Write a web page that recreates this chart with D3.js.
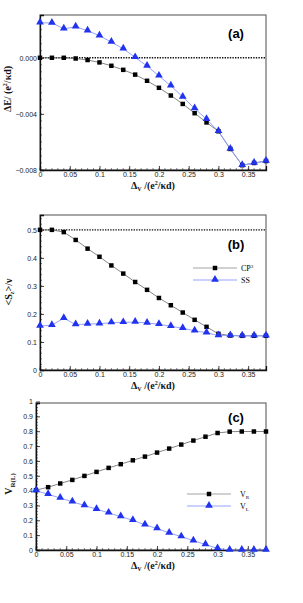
<!DOCTYPE html>
<html>
<head>
<meta charset="utf-8">
<script src="https://cdn.jsdelivr.net/npm/d3@7"></script>
<style>
  body { margin: 0; background: #fff; }
  svg { display: block; }
  .tick text { font-family: "Liberation Sans", Arial, sans-serif; font-size: 7px; fill: #222; }
  .lbl { font-family: "Liberation Serif", "Times New Roman", serif; font-weight: bold; fill: #111; }
</style>
</head>
<body>
<svg id="chart" width="303" height="603"></svg>
<script>
// x values shared by all three panels
const deltaV = [0, 0.02, 0.04, 0.06, 0.08, 0.1, 0.12, 0.14, 0.16, 0.18, 0.2, 0.22, 0.24, 0.26, 0.28, 0.3, 0.32, 0.34, 0.36, 0.38];
const xTicks = [0, 0.05, 0.1, 0.15, 0.2, 0.25, 0.3, 0.35];

// panel (a) energy difference
const dEsquares = [0, 0, 0, -0.00005, -0.00016, -0.00033, -0.00057, -0.00086, -0.0012, -0.00164, -0.00214, -0.00269, -0.00329, -0.00395, -0.00461, -0.00524, -0.0065, -0.00766, -0.0075, -0.00736];
const dEtriangles = [0.0025, 0.00248, 0.00207, 0.00221, 0.00193, 0.00157, 0.00112, 0.00064, 0.00003, -0.00059, -0.00129, -0.002, -0.00279, -0.00361, -0.00438, -0.00524, -0.0065, -0.00766, -0.0075, -0.00736];
const aTicks = [0, -0.004, -0.008];

// panel (b) <Sz>/nu
const szCP3 = [0.5, 0.5, 0.492, 0.464, 0.433, 0.404, 0.373, 0.344, 0.314, 0.286, 0.257, 0.231, 0.205, 0.179, 0.154, 0.129, 0.123, 0.122, 0.122, 0.122];
const szSS = [0.157, 0.16, 0.185, 0.162, 0.164, 0.165, 0.169, 0.17, 0.171, 0.168, 0.163, 0.156, 0.149, 0.14, 0.133, 0.123, 0.123, 0.122, 0.122, 0.122];
const bTicks = [0, 0.1, 0.2, 0.3, 0.4, 0.5];

// panel (c) V_R and V_L
const vR = [0.403, 0.423, 0.448, 0.472, 0.499, 0.526, 0.553, 0.578, 0.604, 0.629, 0.656, 0.683, 0.71, 0.737, 0.763, 0.788, 0.797, 0.798, 0.798, 0.798];
const vL = [0.4, 0.375, 0.35, 0.325, 0.3, 0.275, 0.25, 0.225, 0.2, 0.17, 0.145, 0.115, 0.09, 0.063, 0.037, 0.01, 0, 0, 0, 0];
const cTicks = [0, 0.1, 0.2, 0.3, 0.4, 0.5, 0.6, 0.7, 0.8, 0.9, 1];

const svg = d3.select("#chart");
const blue = "#2233ee", blueLine = "#8899ff";

const sq = d3.symbol().type(d3.symbolSquare).size(20);
const tri = d3.symbol().type(d3.symbolTriangle).size(26);

function panel(o) {
  const x = d3.scaleLinear().domain([0, 0.38]).range([o.left, 266]);
  const y = d3.scaleLinear().domain(o.ydom).range([o.bottom, o.top]);
  const g = svg.append("g");

  // frame
  g.append("rect").attr("x", o.left).attr("y", o.top)
    .attr("width", 266 - o.left).attr("height", o.bottom - o.top)
    .attr("fill", "none").attr("stroke", "#777").attr("stroke-width", 1.3);

  // minor ticks
  const xMinor = d3.range(0, 0.381, 0.01);
  g.selectAll(".xm").data(xMinor).join("line")
    .attr("x1", d => x(d)).attr("x2", d => x(d))
    .attr("y1", o.bottom).attr("y2", o.bottom - 2)
    .attr("stroke", "#333").attr("stroke-width", 0.6);
  g.selectAll(".ym").data(o.yMinor).join("line")
    .attr("x1", o.left).attr("x2", o.left + 2)
    .attr("y1", d => y(d)).attr("y2", d => y(d))
    .attr("stroke", "#333").attr("stroke-width", 0.6);

  // axes with inward ticks
  const xa = g.append("g").attr("transform", `translate(0,${o.bottom})`)
    .call(d3.axisBottom(x).tickValues(xTicks).tickSize(-4).tickPadding(3).tickFormat(d3.format("~g")));
  const ya = g.append("g").attr("transform", `translate(${o.left},0)`)
    .call(d3.axisLeft(y).tickValues(o.yTicks).tickSize(-4).tickPadding(3).tickFormat(o.yfmt));
  [xa, ya].forEach(a => {
    a.select(".domain").attr("stroke", "#111").attr("stroke-width", 1.3);
    a.selectAll(".tick line").attr("stroke", "#111").attr("stroke-width", 0.8);
  });
  xa.selectAll(".tick text").attr("dy", "0.55em");

  // dotted reference line
  if (o.ref !== undefined) {
    g.append("line").attr("x1", o.left).attr("x2", 266)
      .attr("y1", y(o.ref)).attr("y2", y(o.ref))
      .attr("stroke", "#111").attr("stroke-width", 1.4).attr("stroke-dasharray", "1.4,1.2");
  }

  const line = d3.line().x((d, i) => x(deltaV[i])).y(d => y(d));
  g.append("path").datum(o.s1).attr("d", line).attr("fill", "none").attr("stroke", "#666").attr("stroke-width", 0.8);
  g.append("path").datum(o.s2).attr("d", line).attr("fill", "none").attr("stroke", blueLine).attr("stroke-width", 0.9);

  g.selectAll(".s1").data(o.s1).join("path")
    .attr("d", sq).attr("fill", "#000")
    .attr("transform", (d, i) => `translate(${x(deltaV[i])},${y(d)})`);
  g.selectAll(".s2").data(o.s2).join("path")
    .attr("d", tri).attr("fill", blue)
    .attr("transform", (d, i) => `translate(${x(deltaV[i])},${y(d) - 0.5})`);

  // panel tag
  g.append("text").attr("x", 236).attr("y", o.tagY)
    .attr("text-anchor", "middle")
    .style("font-family", "Liberation Sans, Arial, sans-serif")
    .style("font-weight", "bold").style("font-size", "13px").text(o.tag);

  // x label
  const xl = g.append("text").attr("class", "lbl").attr("x", 153).attr("y", o.bottom + 19)
    .attr("text-anchor", "middle").style("font-size", "10px");
  xl.append("tspan").text("Δ");
  xl.append("tspan").attr("dy", 2).style("font-size", "6px").text("V");
  xl.append("tspan").attr("dy", -2).text(" /(e");
  xl.append("tspan").attr("dy", -4).style("font-size", "6px").text("2");
  xl.append("tspan").attr("dy", 4).text("/κd)");

  // y label
  const yl = g.append("text").attr("class", "lbl")
    .attr("transform", `translate(${o.ylx},${o.yly}) rotate(-90)`)
    .attr("text-anchor", "middle").style("font-size", "10px");
  o.ylabel.forEach(p => {
    yl.append("tspan").attr("dy", p.dy || 0).style("font-size", p.fs || null).text(p.t);
  });

  // legend
  if (o.legend) {
    o.legend.forEach((l, k) => {
      const ly = o.legend.y + k * 12;
      g.append("line").attr("x1", o.legend.x).attr("x2", o.legend.x + 44)
        .attr("y1", ly).attr("y2", ly).attr("stroke", k ? blueLine : "#999").attr("stroke-width", 0.9);
      g.append("path").attr("d", k ? tri : sq).attr("fill", k ? blue : "#000")
        .attr("transform", `translate(${o.legend.x + 22},${ly - (k ? 0.5 : 0)})`);
      const t = g.append("text").attr("x", o.legend.x + o.legend.tx).attr("y", ly + 3)
        .style("font-family", "Liberation Serif, Times New Roman, serif").style("font-size", "8px");
      l.forEach(p => t.append("tspan").attr("dy", p.dy || 0).style("font-size", p.fs || null).text(p.t));
    });
  }
}

panel({
  top: 15, bottom: 170, left: 40, ydom: [-0.008, 0.00305],
  yTicks: aTicks, yMinor: d3.range(-0.008, 0.003, 0.0005), yfmt: d3.format(".3f"),
  ref: 0, s1: dEsquares, s2: dEtriangles, tag: "(a)", tagY: 38,
  ylx: 11, yly: 89,
  ylabel: [{t: "ΔE/ (e"}, {t: "2", dy: -4, fs: "6px"}, {t: "/κd)", dy: 4}]
});

const legB = [[{t: "CP"}, {t: "3", dy: -3, fs: "5px"}], [{t: "SS"}]];
legB.x = 193; legB.y = 268; legB.tx = 48;
panel({
  top: 215, bottom: 370, left: 40, ydom: [0, 0.553],
  yTicks: bTicks, yMinor: d3.range(0, 0.55, 0.02), yfmt: d3.format("~g"),
  ref: 0.5, s1: szCP3, s2: szSS, tag: "(b)", tagY: 249,
  ylx: 12, yly: 292,
  ylabel: [{t: "<S"}, {t: "z", dy: 2, fs: "6px"}, {t: ">/ν", dy: -2}],
  legend: legB
});

const legC = [[{t: "V"}, {t: "R", dy: 2, fs: "5px"}], [{t: "V"}, {t: "L", dy: 2, fs: "5px"}]];
legC.x = 187; legC.y = 494; legC.tx = 53;
panel({
  top: 403, bottom: 550, left: 36, ydom: [0, 0.99],
  yTicks: cTicks, yMinor: d3.range(0, 0.99, 0.02), yfmt: d3.format("~g"),
  s1: vR, s2: vL, tag: "(c)", tagY: 422,
  ylx: 12, yly: 484,
  ylabel: [{t: "V"}, {t: "R(L)", dy: 3, fs: "7px"}],
  legend: legC
});
</script>
</body>
</html>
